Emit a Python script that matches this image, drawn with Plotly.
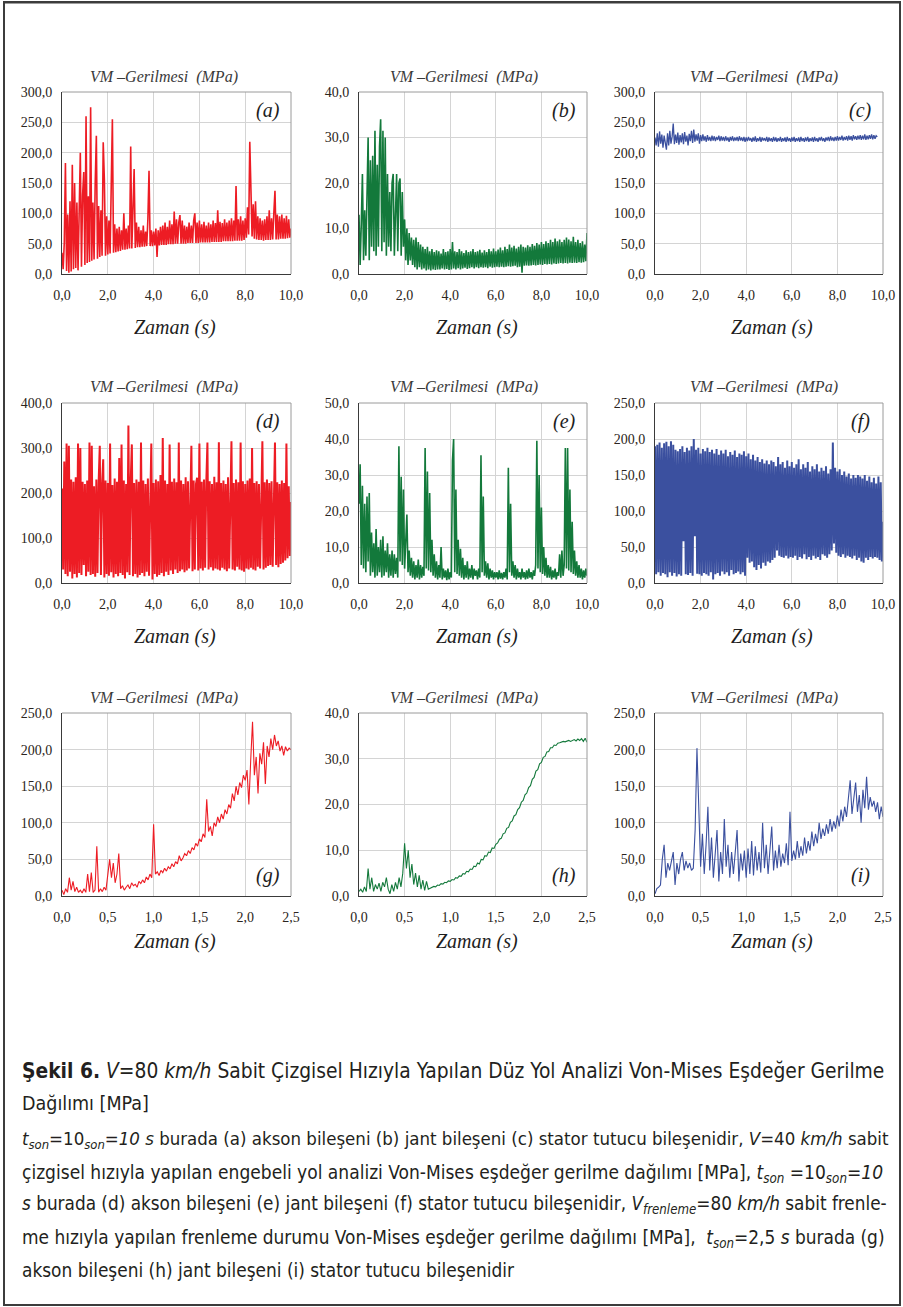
import plotly.graph_objects as go

# ---------------- data ----------------
dt_long = 0.05   # sampling step of the 10 s series
dt_short = 0.02  # sampling step of the 2.5 s series

vm_a = [35, 8, 52, 183, 5, 98, 2, 120, 4, 180,
        8, 150, 10, 118, 6, 122, 200, 12, 130, 168,
        15, 260, 18, 128, 20, 275, 22, 118, 24, 150,
        228, 25, 112, 28, 105, 30, 217, 155, 30, 95,
        32, 88, 34, 145, 255, 35, 82, 36, 75, 37,
        78, 38, 72, 40, 100, 40, 75, 41, 80, 42,
        210, 42, 135, 173, 43, 85, 44, 78, 44, 72,
        45, 80, 45, 70, 46, 90, 170, 46, 72, 46,
        70, 47, 75, 28, 72, 47, 78, 48, 80, 48,
        85, 48, 78, 49, 88, 49, 82, 49, 103, 50,
        90, 50, 85, 97, 50, 88, 50, 80, 50, 78,
        51, 85, 51, 80, 51, 88, 100, 51, 85, 51,
        88, 52, 82, 52, 86, 52, 80, 52, 85, 52,
        82, 53, 88, 53, 84, 53, 105, 53, 86, 53,
        84, 54, 90, 54, 85, 54, 88, 54, 92, 54,
        88, 55, 145, 55, 90, 55, 95, 55, 88, 56,
        92, 60, 110, 65, 218, 140, 62, 115, 58, 120,
        57, 95, 56, 92, 56, 88, 55, 90, 56, 95,
        56, 105, 56, 92, 57, 100, 137, 57, 98, 57,
        95, 58, 98, 58, 92, 58, 96, 59, 90, 60,
        75]

vm_b = [13, 2, 11, 22, 3, 14, 4, 18, 30, 3,
        25, 6, 26, 5, 31.5, 4, 24, 6, 28, 34,
        5, 31.5, 7, 30, 4, 22, 6, 18, 5, 20,
        22, 4, 16, 22, 5, 20, 21, 4, 18, 6,
        12, 3, 10, 2, 9, 3, 8, 2, 7.5, 1.5,
        8, 1, 7, 1.5, 6.5, 1, 6, 1.2, 5.5, 0.8,
        6, 1, 5, 0.8, 5.5, 1, 4.8, 0.9, 5.2, 1,
        5, 1, 4.5, 1.2, 5.5, 1, 4.8, 1.1, 5, 0.9,
        5.5, 1, 7, 1.2, 5, 1, 4.8, 1.3, 5.5, 1,
        5, 1.2, 4.6, 1.4, 5.2, 1.1, 4.8, 1.3, 5, 1.5,
        5.5, 1.2, 4.8, 1.5, 5, 1.3, 5.3, 1.5, 4.7, 1.4,
        5.2, 1.5, 4.8, 1.3, 5.5, 1.6, 5, 1.4, 5.6, 1.5,
        5, 1.6, 5.4, 1.5, 5.8, 1.6, 5.2, 1.5, 6, 1.6,
        5.5, 1.7, 6.5, 1.6, 5.8, 1.7, 6.2, 1.8, 5.6, 1.5,
        6, 1.6, 6.5, 0.3, 6, 1.8, 5.8, 1.9, 6.3, 1.8,
        6, 1.9, 6.6, 2, 6.2, 1.9, 6.8, 2, 6.5, 2.1,
        7, 2, 6.6, 2.2, 7.2, 2.1, 6.8, 2.2, 7.5, 2.1,
        7, 2.3, 7.8, 2.2, 7.2, 2.3, 7.6, 2.4, 7, 2.3,
        7.5, 2.4, 8, 2.3, 7.6, 2.5, 7.2, 2.4, 8.2, 2.5,
        7, 2.4, 7.5, 2.6, 6.8, 2.5, 7.2, 2.6, 6.5, 2.8,
        9]

vm_c = [225, 212, 232, 210, 235, 215, 230, 208, 228, 218,
        205, 232, 212, 236, 215, 226, 248, 214, 230, 216,
        233, 213, 229, 217, 232, 214, 234, 218, 228, 212,
        231, 219, 236, 216, 238, 218, 230, 220, 232, 215,
        229, 219, 230, 220, 227, 218, 229, 220, 226, 219,
        228, 220, 227, 219, 226, 221, 228, 219, 227, 220,
        226, 219, 227, 220, 225, 218, 226, 220, 227, 219,
        225, 220, 226, 219, 227, 220, 225, 219, 226, 218,
        225, 219, 226, 220, 224, 218, 225, 219, 227, 218,
        224, 219, 226, 218, 225, 220, 224, 219, 226, 218,
        225, 219, 224, 218, 226, 219, 225, 218, 224, 219,
        226, 218, 224, 219, 225, 218, 226, 219, 224, 218,
        225, 219, 226, 218, 224, 219, 225, 218, 226, 219,
        224, 218, 225, 219, 226, 218, 224, 219, 225, 218,
        226, 219, 224, 218, 225, 220, 226, 219, 224, 218,
        225, 220, 226, 219, 227, 220, 225, 219, 226, 220,
        227, 220, 226, 221, 228, 220, 226, 221, 227, 220,
        228, 221, 227, 220, 229, 222, 227, 221, 228, 222,
        229, 221, 228, 222, 230, 221, 228, 222, 229, 223,
        230, 222, 229, 223, 228, 226]

vm_d = [210, 30, 270, 20, 310, 15, 305, 25, 230, 10,
        225, 20, 235, 12, 310, 22, 300, 18, 225, 40,
        220, 15, 228, 25, 312, 18, 305, 20, 215, 14,
        230, 22, 225, 305, 18, 220, 275, 12, 228, 20,
        222, 16, 310, 24, 218, 12, 232, 20, 225, 15,
        278, 22, 308, 18, 228, 10, 220, 24, 350, 18,
        226, 308, 15, 222, 20, 230, 12, 225, 18, 312,
        22, 228, 15, 220, 25, 232, 16, 225, 310, 8,
        222, 20, 230, 14, 226, 18, 240, 22, 322, 15,
        228, 25, 220, 18, 308, 28, 225, 20, 232, 30,
        224, 22, 312, 26, 228, 30, 220, 24, 235, 28,
        226, 32, 222, 305, 26, 228, 30, 220, 234, 28,
        310, 32, 225, 28, 230, 34, 222, 312, 30, 226,
        35, 220, 28, 236, 32, 224, 30, 313, 28, 222,
        34, 228, 30, 220, 26, 235, 32, 225, 315, 30,
        222, 28, 230, 36, 224, 30, 312, 28, 226, 25,
        220, 32, 228, 30, 232, 34, 300, 30, 222, 28,
        226, 36, 220, 32, 228, 315, 30, 224, 34, 230,
        38, 222, 40, 226, 36, 218, 312, 40, 224, 35,
        220, 42, 228, 45, 222, 50, 310, 55, 215, 60,
        180]

vm_e = [22, 33, 5, 27, 4, 22, 3, 24, 6, 25,
        2, 14, 3, 11, 1.5, 15, 2, 10, 3, 12,
        1.5, 13, 2, 9, 3, 11, 1.5, 8, 2, 9,
        1.5, 8, 2.5, 7, 1.5, 38, 6, 29.5, 5, 26,
        4, 14, 19, 3, 9, 2, 7, 1.5, 6, 1,
        5, 1.5, 6.5, 1, 5, 1.5, 4.5, 2, 37.5, 4,
        31, 3.5, 25, 3, 12, 2, 8, 1.5, 6, 1,
        5, 1.5, 10, 1, 4, 1.5, 3.5, 0.8, 4, 1,
        3, 1.5, 34, 40, 3, 26, 2.5, 12, 2, 9.5,
        1.5, 7, 1, 5, 1.5, 6, 1, 4, 1.5, 5,
        1, 4, 2, 3.5, 1, 4, 1.5, 35.5, 3, 24,
        2, 6, 1.5, 5.5, 1, 4, 1.5, 3.5, 1, 3,
        1.5, 3, 1, 3.5, 1.2, 2.8, 1, 3, 1.5, 4,
        1, 32, 3, 22, 2, 6, 1.5, 5, 1, 4,
        1.5, 3, 1, 4, 1.5, 3, 1, 3.5, 1.2, 4,
        1.5, 3, 1, 3.5, 2, 5, 39.5, 4, 30, 3,
        21, 2.5, 10, 2, 7, 1.5, 5, 1.5, 4.5, 1,
        3.5, 1.5, 4, 1, 3, 2, 8, 1.5, 9, 2,
        5, 37.5, 4, 37.5, 3.5, 26, 3, 17, 2.5, 9,
        2, 6, 1.5, 5, 1.5, 4, 1, 3.5, 1.5, 4,
        2]

vm_f = [190, 12, 192, 15, 195, 10, 188, 14, 194, 12,
        196, 8, 190, 15, 197, 10, 192, 14, 185, 9,
        183, 12, 186, 10, 190, 58, 182, 12, 188, 11,
        184, 14, 190, 10, 200, 65, 185, 13, 188, 12,
        180, 10, 186, 14, 183, 12, 188, 10, 182, 15,
        185, 5, 180, 12, 186, 14, 178, 10, 184, 16,
        180, 12, 185, 15, 176, 10, 182, 18, 178, 12,
        184, 14, 175, 16, 180, 12, 178, 15, 183, 10,
        176, 35, 180, 28, 172, 30, 178, 22, 170, 18,
        175, 25, 168, 20, 172, 28, 166, 24, 170, 30,
        165, 28, 170, 32, 168, 35, 162, 45, 175, 38,
        165, 36, 168, 35, 160, 38, 170, 34, 162, 36,
        168, 35, 160, 38, 165, 32, 172, 36, 158, 34,
        165, 40, 160, 33, 168, 36, 155, 32, 162, 38,
        158, 34, 165, 36, 155, 32, 160, 40, 156, 38,
        162, 35, 152, 40, 158, 45, 195, 55, 160, 42,
        155, 38, 158, 36, 150, 40, 155, 35, 148, 38,
        152, 36, 145, 34, 150, 38, 146, 32, 150, 35,
        148, 30, 145, 28, 150, 35, 142, 32, 148, 36,
        140, 34, 146, 36, 138, 35, 148, 32, 140, 30,
        85]

vm_g = [8, 2, 10, 5, 25, 8, 20, 6, 12, 5,
        8, 4, 10, 5, 30, 6, 32, 5, 8, 68,
        5, 10, 6, 12, 8, 30, 50, 25, 45, 18,
        30, 58, 10, 14, 8, 12, 15, 10, 18, 14,
        16, 12, 20, 17, 22, 18, 26, 22, 30, 25,
        98, 30, 33, 28, 35, 32, 38, 34, 40, 37,
        44, 40, 47, 44, 55, 48, 52, 58, 55, 62,
        58, 66, 63, 72, 68, 78, 74, 85, 80, 132,
        88, 95, 82, 100, 95, 108, 100, 112, 105, 118,
        112, 125, 120, 140, 130, 150, 138, 155, 148, 165,
        158, 172, 125, 185, 238, 165, 190, 140, 195, 180,
        210, 153, 205, 190, 215, 200, 220, 205, 212, 198,
        205, 192, 204, 198, 202, 200]

vm_h = [1, 1.5, 0.8, 2, 1, 6, 1.5, 4, 1, 2.5,
        1.5, 2.8, 1, 3, 2, 4, 1.5, 0.5, 2.5, 1,
        3, 1.5, 4, 2, 5, 11.5, 6, 10, 4, 7,
        2.5, 5, 2, 4.5, 1.5, 3.5, 1.2, 3.2, 1.5, 1.7,
        1.8, 2.1, 2.0, 2.4, 2.3, 2.7, 2.6, 3.0, 2.9, 3.3,
        3.2, 3.6, 3.5, 4.0, 3.9, 4.4, 4.3, 4.9, 4.8, 5.4,
        5.3, 5.9, 5.8, 6.5, 6.4, 7.2, 7.0, 8.0, 7.9, 8.8,
        8.7, 9.6, 9.5, 10.5, 10.4, 11.3, 11.6, 12.4, 12.6, 13.6,
        13.8, 14.8, 15.0, 16.1, 16.4, 17.5, 17.8, 18.9, 19.3, 20.5,
        20.9, 22.1, 22.5, 23.7, 24.1, 25.5, 25.9, 27.3, 27.6, 28.9,
        29.2, 30.3, 30.5, 31.5, 31.6, 32.4, 32.4, 33.0, 32.9, 33.4,
        33.5, 33.6, 33.8, 33.7, 33.9, 34.0, 33.8, 34.1, 34.2, 33.9,
        34.3, 34.0, 34.4, 33.8, 34.5, 33.6]

vm_i = [3, 10, 12, 15, 50, 70, 25, 45, 35, 48,
        60, 15, 45, 30, 50, 60, 35, 48, 38, 45,
        35, 38, 90, 202, 120, 40, 85, 30, 70, 122,
        35, 80, 25, 65, 90, 20, 60, 30, 105, 40,
        70, 25, 60, 30, 55, 90, 20, 58, 35, 62,
        25, 65, 30, 75, 28, 68, 35, 60, 32, 100,
        38, 70, 30, 65, 95, 35, 62, 38, 70, 40,
        58, 45, 72, 42, 115, 48, 62, 50, 75, 52,
        68, 55, 80, 58, 75, 62, 88, 68, 85, 72,
        100, 78, 92, 82, 98, 85, 105, 88, 102, 92,
        110, 95, 118, 102, 122, 108, 135, 158, 112, 130,
        155, 115, 138, 100, 145, 120, 163, 118, 135, 122,
        130, 115, 128, 105, 122, 108]

panel_letters = ["a", "b", "c", "d", "e", "f", "g", "h", "i"]
y_max = [300, 40, 300, 400, 50, 250, 250, 40, 250]
y_step = [50, 10, 50, 100, 10, 50, 50, 10, 50]
x_max = [10, 10, 10, 10, 10, 10, 2.5, 2.5, 2.5]
x_step = [2, 2, 2, 2, 2, 2, 0.5, 0.5, 0.5]
series = [vm_a, vm_b, vm_c, vm_d, vm_e, vm_f, vm_g, vm_h, vm_i]
steps = [dt_long] * 6 + [dt_short] * 3

RED, GREEN, BLUE = "#ed1c24", "#13793b", "#3b509f"
colors = [RED, GREEN, BLUE] * 3
line_w = [1.6, 1.6, 1.3, 2.0, 1.6, 2.0, 1.1, 1.1, 1.1]

chart_title = "VM\u00a0\u2013Gerilmesi\u00a0\u00a0(MPa)"
x_title = "Zaman (s)"

# ---------------- layout geometry (pixels) ----------------
W, H = 903, 1307
col_px = [(62, 291), (359, 587), (655, 883)]
row_px = [(92, 274), (403, 583), (713, 896)]
title_cx = [164, 464, 764]
title_cy = [77, 387, 698]
xlab_cx = [175, 477, 772]
xlab_cy = [327, 636, 941]


def fx(p):
    return p / W


def fy(p):
    return 1 - p / H


SERIF = "Liberation Serif, Times New Roman, serif"
SANS = "DejaVu Sans Condensed, Liberation Sans Narrow, Arial Narrow, sans-serif"
TICK_COLOR = "#2b2520"

fig = go.Figure()
annotations = []
shapes = []

for k in range(9):
    r, c = divmod(k, 3)
    n = k + 1
    xs = "x" if n == 1 else f"x{n}"
    ys = "y" if n == 1 else f"y{n}"
    vals = series[k]
    t = [round(i * steps[k], 3) for i in range(len(vals))]
    fig.add_trace(go.Scatter(x=t, y=vals, mode="lines", xaxis=xs, yaxis=ys,
                             line=dict(color=colors[k], width=line_w[k]),
                             showlegend=False, hoverinfo="skip"))
    x0, x1 = col_px[c]
    y0, y1 = row_px[r]
    xa = dict(domain=[fx(x0), fx(x1)], range=[0, x_max[k]], dtick=x_step[k], tick0=0,
              tickformat=".1f", showgrid=True, gridcolor="#d4d4d4", gridwidth=1,
              showline=True, linecolor="#3a3a3a", linewidth=1, zeroline=False,
              ticks="", tickfont=dict(family=SERIF, size=14, color=TICK_COLOR),
              ticklabelstandoff=8, anchor=ys, fixedrange=True, automargin=False)
    ya = dict(domain=[fy(y1), fy(y0)], range=[0, y_max[k]], dtick=y_step[k], tick0=0,
              tickformat=".1f", showgrid=True, gridcolor="#d4d4d4", gridwidth=1,
              showline=True, linecolor="#3a3a3a", linewidth=1, zeroline=False,
              ticks="", tickfont=dict(family=SERIF, size=14, color=TICK_COLOR),
              ticklabelstandoff=6, anchor=xs, fixedrange=True, automargin=False)
    fig.layout["xaxis" if n == 1 else f"xaxis{n}"] = xa
    fig.layout["yaxis" if n == 1 else f"yaxis{n}"] = ya

    # gray top and right frame of plot area
    shapes.append(dict(type="line", xref=f"{xs} domain", yref=f"{ys} domain",
                       x0=0, x1=1, y0=1, y1=1, line=dict(color="#9a9a9a", width=1)))
    shapes.append(dict(type="line", xref=f"{xs} domain", yref=f"{ys} domain",
                       x0=1, x1=1, y0=0, y1=1, line=dict(color="#9a9a9a", width=1)))

    annotations.append(dict(text=chart_title, x=fx(title_cx[c]), y=fy(title_cy[r]),
                            xref="paper", yref="paper", showarrow=False,
                            xanchor="center", yanchor="middle",
                            font=dict(family=SERIF, size=16, color="#3a3a3a",
                                      style="italic")))
    annotations.append(dict(text=x_title, x=fx(xlab_cx[c]), y=fy(xlab_cy[r]),
                            xref="paper", yref="paper", showarrow=False,
                            xanchor="center", yanchor="middle",
                            font=dict(family=SERIF, size=20, color="#1e1e1e",
                                      style="italic")))
    # panel letter, inside plot area
    lx = 0.9
    ly = 0.9 if r < 2 else 0.11
    annotations.append(dict(text=f"({panel_letters[k]})", x=lx, y=ly,
                            xref=f"{xs} domain", yref=f"{ys} domain", showarrow=False,
                            xanchor="center", yanchor="middle",
                            font=dict(family=SERIF, size=20, color="#1e1e1e",
                                      style="italic")))

# ---------------- caption ----------------
cap_color = "#231f20"
caption_lines = [
    "<b>Şekil 6.</b> <i>V</i>=80 <i>km/h</i> Sabit Çizgisel Hızıyla Yapılan Düz Yol Analizi "
    "Von-Mises Eşdeğer Gerilme",
    "Dağılımı [MPa]",
    "<i>t<sub>son</sub></i>=10<sub><i>son</i></sub><i>=10 s</i> burada (a) akson bileşeni "
    "(b) jant bileşeni (c) stator tutucu bileşenidir, <i>V</i>=40 <i>km/h</i> sabit",
    "çizgisel hızıyla yapılan engebeli yol analizi Von-Mises eşdeğer gerilme dağılımı [MPa], "
    "<i>t<sub>son</sub></i> =10<sub><i>son</i></sub><i>=10</i>",
    "<i>s</i> burada (d) akson bileşeni (e) jant bileşeni (f) stator tutucu bileşenidir, "
    "<i>V<sub>frenleme</sub></i>=80 <i>km/h</i> sabit frenle-",
    "me hızıyla yapılan frenleme durumu Von-Mises eşdeğer gerilme dağılımı [MPa],\u00a0 "
    "<i>t<sub>son</sub></i>=2,5 <i>s</i> burada (g)",
    "akson bileşeni (h) jant bileşeni (i) stator tutucu bileşenidir",
]
caption_y = [1071, 1103, 1140, 1173, 1205, 1238, 1270]
caption_size = [20.8, 19.5, 18.5, 19.0, 18.8, 18.9, 18.9]
for txt, yy, sz in zip(caption_lines, caption_y, caption_size):
    annotations.append(dict(text=txt, x=fx(20), y=fy(yy), xref="paper", yref="paper",
                            showarrow=False, xanchor="left", yanchor="middle",
                            font=dict(family=SANS, size=sz, color=cap_color)))

# outer frame
shapes.append(dict(type="rect", xref="paper", yref="paper", x0=fx(4), x1=fx(900),
                   y0=fy(1305), y1=fy(2), line=dict(color="#3c3c3c", width=2)))
shapes.append(dict(type="line", xref="paper", yref="paper", x0=fx(3), x1=fx(901),
                   y0=fy(2.5), y1=fy(2.5), line=dict(color="#3c3c3c", width=2)))

fig.update_layout(width=W, height=H, margin=dict(l=0, r=0, t=0, b=0, pad=0,
                                                 autoexpand=False),
                  paper_bgcolor="white", plot_bgcolor="white",
                  separators=",.", annotations=annotations, shapes=shapes,
                  showlegend=False)

fig.write_html("out.html",
               config={"displayModeBar": False, "staticPlot": True},
               post_script="document.body.style.margin='0';"
                           "document.body.style.overflow='hidden';")
